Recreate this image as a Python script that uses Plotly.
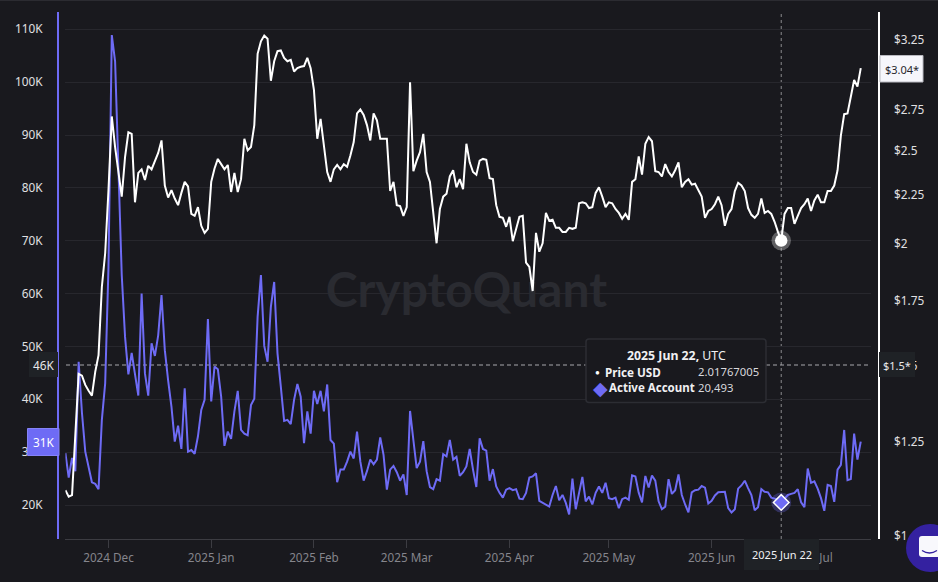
import pandas as pd
import plotly.graph_objects as go

W, H = 938, 582
BG = "#19191e"
PURPLE = "#6e6bf5"
FONT = "Noto Sans"

# daily values, 2024 Nov 18 to 2025 Jul 16
price_usd = [
    1.115, 1.098, 1.102, 1.256, 1.470, 1.464, 1.432, 1.412, 1.396, 1.477,
    1.537, 1.807, 1.958, 2.275, 2.710, 2.520, 2.370, 2.240, 2.460, 2.610,
    2.600, 2.210, 2.370, 2.390, 2.330, 2.410, 2.390, 2.440, 2.485, 2.560,
    2.300, 2.235, 2.275, 2.230, 2.195, 2.260, 2.320, 2.295, 2.150, 2.140,
    2.185, 2.090, 2.055, 2.075, 2.320, 2.395, 2.450, 2.420, 2.390, 2.415,
    2.265, 2.370, 2.265, 2.335, 2.570, 2.500, 2.520, 2.655, 3.145, 3.240,
    3.285, 3.260, 2.950, 3.090, 3.165, 3.170, 3.115, 3.090, 3.100, 3.015,
    3.040, 3.050, 3.055, 3.115, 3.040, 2.885, 2.570, 2.695, 2.510, 2.375,
    2.320, 2.390, 2.415, 2.390, 2.420, 2.405, 2.470, 2.550, 2.730, 2.755,
    2.720, 2.655, 2.560, 2.730, 2.685, 2.570, 2.570, 2.570, 2.270, 2.320,
    2.195, 2.190, 2.140, 2.185, 2.940, 2.380, 2.440, 2.490, 2.600, 2.375,
    2.320, 2.155, 2.005, 2.175, 2.240, 2.255, 2.350, 2.385, 2.290, 2.335,
    2.280, 2.540, 2.430, 2.375, 2.360, 2.440, 2.450, 2.445, 2.340, 2.335,
    2.195, 2.135, 2.130, 2.085, 2.135, 2.015, 2.070, 2.135, 2.140, 1.915,
    1.895, 1.790, 2.055, 1.965, 2.005, 2.155, 2.115, 2.120, 2.080, 2.080,
    2.060, 2.060, 2.080, 2.075, 2.080, 2.205, 2.210, 2.205, 2.180, 2.185,
    2.260, 2.290, 2.240, 2.185, 2.210, 2.205, 2.175, 2.155, 2.125, 2.150,
    2.120, 2.320, 2.335, 2.465, 2.360, 2.540, 2.580, 2.555, 2.380, 2.375,
    2.350, 2.420, 2.375, 2.350, 2.385, 2.430, 2.290, 2.320, 2.335, 2.305,
    2.310, 2.275, 2.240, 2.130, 2.165, 2.175, 2.200, 2.240, 2.195, 2.090,
    2.150, 2.175, 2.270, 2.315, 2.300, 2.270, 2.180, 2.145, 2.130, 2.150,
    2.230, 2.155, 2.165, 2.150, 2.110, 2.060, 2.01767005, 2.150, 2.180, 2.180,
    2.100, 2.140, 2.180, 2.200, 2.230, 2.165, 2.220, 2.250, 2.210, 2.210,
    2.270, 2.270, 2.300, 2.385, 2.590, 2.725, 2.730, 2.840, 2.955, 2.910,
    3.040,
]

# thousands of accounts
active_account = [
    29.8, 25.2, 28.9, 26.4, 47.1, 37.4, 30.1, 27.3, 24.3, 24.0,
    23.0, 36.1, 43.0, 65.0, 108.9, 103.9, 84.0, 63.5, 51.8, 44.7,
    48.8, 44.6, 40.7, 60.0, 44.9, 40.7, 50.6, 48.2, 52.1, 59.7,
    49.3, 43.6, 38.6, 32.0, 35.0, 30.6, 42.1, 30.1, 30.4, 29.7,
    33.0, 38.0, 39.9, 55.2, 39.6, 46.2, 45.7, 40.5, 31.2, 33.9,
    32.5, 37.7, 41.6, 34.2, 33.5, 33.2, 38.9, 40.1, 55.6, 63.5,
    50.1, 47.1, 57.5, 62.2, 48.7, 42.4, 35.9, 36.1, 35.3, 39.9,
    42.9, 40.5, 31.7, 37.7, 33.5, 41.6, 39.1, 41.6, 37.7, 42.8,
    32.3, 31.6, 24.3, 26.7, 26.7, 28.2, 30.1, 28.8, 33.9, 28.2,
    24.6, 26.4, 28.6, 27.7, 28.6, 32.8, 29.5, 22.9, 26.7, 27.4,
    26.2, 24.6, 25.8, 21.9, 37.8, 32.3, 27.0, 28.2, 32.1, 26.4,
    23.4, 23.0, 24.9, 24.6, 29.6, 29.2, 32.3, 28.6, 29.1, 25.5,
    26.2, 27.3, 30.6, 26.7, 23.4, 32.6, 30.6, 30.3, 24.6, 26.8,
    23.5, 22.3, 21.4, 22.9, 23.2, 22.8, 23.0, 21.2, 21.1, 22.3,
    25.2, 25.4, 26.0, 20.8, 20.4, 20.1, 19.7, 21.9, 23.6, 20.9,
    21.9, 20.4, 18.2, 25.0, 19.2, 22.3, 25.3, 20.7, 21.6, 20.1,
    22.3, 23.5, 22.3, 24.2, 21.3, 21.1, 21.4, 19.4, 21.1, 21.4,
    21.0, 25.6, 25.4, 22.3, 20.5, 25.5, 23.3, 25.6, 24.6, 20.7,
    19.2, 19.7, 24.9, 22.1, 22.8, 25.8, 21.9, 20.1, 18.6, 22.4,
    22.8, 22.9, 23.6, 23.3, 20.3, 20.8, 21.8, 22.4, 22.4, 22.5,
    19.4, 18.6, 19.2, 23.1, 23.7, 24.6, 23.2, 21.9, 19.0, 19.6,
    23.0, 22.5, 22.4, 21.4, 21.2, 21.0, 20.493, 21.3, 21.9, 22.1,
    22.3, 23.0, 20.5, 19.6, 26.9, 24.2, 24.5, 23.1, 21.3, 18.9,
    23.8, 23.6, 20.6, 26.7, 27.6, 34.2, 24.7, 24.9, 33.5, 28.6,
    32.0,
]

dates = pd.date_range("2024-11-18", periods=len(price_usd), freq="D")
hover_i = 216

month_starts = ["2024-12-01", "2025-01-01", "2025-02-01", "2025-03-01",
                "2025-04-01", "2025-05-01", "2025-06-01", "2025-07-01"]
month_labels = ["2024 Dec", "2025 Jan", "2025 Feb", "2025 Mar",
                "2025 Apr", "2025 May", "2025 Jun", "2025 Jul"]
account_ticks = [20, 30, 40, 50, 60, 70, 80, 90, 100, 110]
account_labels = ["20K", "30K", "40K", "50K", "60K", "70K", "80K", "90K", "100K", "110K"]
price_ticks = [1, 1.25, 1.5, 1.75, 2, 2.25, 2.5, 2.75, 3, 3.25]
price_labels = ["$1", "$1.25", "$1.5", "$1.75", "$2", "$2.25", "$2.5", "$2.75", "$3", "$3.25"]


def px(x):
    return x / W


def py(y):
    return 1 - y / H


def label(x, y, text, size=11.8, color="#e8e8ea", anchor="center"):
    return dict(xref="paper", yref="paper", x=px(x), y=py(y), text=text, showarrow=False,
                xanchor=anchor, yanchor="middle", font=dict(family=FONT, size=size, color=color))


def box(x0, y0, x1, y1, fill, line=None, layer="above"):
    return dict(type="rect", xref="paper", yref="paper", layer=layer,
                x0=px(x0), x1=px(x1), y0=py(y0), y1=py(y1), fillcolor=fill,
                line=dict(color=line or fill, width=1 if line else 0))


def rounded(x0, y0, x1, y1, r):
    return (f"M {px(x0 + r)} {py(y0)} L {px(x1 - r)} {py(y0)} Q {px(x1)} {py(y0)} {px(x1)} {py(y0 + r)} "
            f"L {px(x1)} {py(y1 - r)} Q {px(x1)} {py(y1)} {px(x1 - r)} {py(y1)} "
            f"L {px(x0 + r)} {py(y1)} Q {px(x0)} {py(y1)} {px(x0)} {py(y1 - r)} "
            f"L {px(x0)} {py(y0 + r)} Q {px(x0)} {py(y0)} {px(x0 + r)} {py(y0)} Z")


fig = go.Figure()

# watermark sits under the lines
fig.add_trace(go.Scatter(x=[dates[121]], y=[59.7], mode="text", text=["CryptoQuant"],
                         textfont=dict(family="Lato", size=48, color="#2a2b31", weight=700),
                         hoverinfo="skip", yaxis="y"))
fig.add_trace(go.Scatter(x=dates, y=active_account, mode="lines", name="Active Account",
                         line=dict(color=PURPLE, width=2), yaxis="y"))
fig.add_trace(go.Scatter(x=[dates[hover_i]], y=[active_account[hover_i]], mode="markers",
                         marker=dict(size=20, color="rgba(110,107,245,0.3)"), yaxis="y"))
fig.add_trace(go.Scatter(x=[dates[hover_i]], y=[active_account[hover_i]], mode="markers",
                         marker=dict(symbol="diamond", size=12, color=PURPLE,
                                     line=dict(color="white", width=1.5)), yaxis="y"))
fig.add_trace(go.Scatter(x=dates, y=price_usd, mode="lines", name="Price USD",
                         line=dict(color="white", width=2), yaxis="y2"))
fig.add_trace(go.Scatter(x=[dates[hover_i]], y=[price_usd[hover_i]], mode="markers",
                         marker=dict(size=19.5, color="rgba(255,255,255,0.3)"), yaxis="y2"))
fig.add_trace(go.Scatter(x=[dates[hover_i]], y=[price_usd[hover_i]], mode="markers",
                         marker=dict(size=12.5, color="white"), yaxis="y2"))

shapes = [
    box(0, 0, W, 1, "#2b2b31"),
    dict(type="line", xref="x", yref="paper", layer="below", x0=dates[hover_i], x1=dates[hover_i],
         y0=py(539), y1=py(12), line=dict(color="#8a8a8e", width=1, dash="3px,3px")),
    dict(type="line", xref="paper", yref="paper", layer="below", x0=px(66), x1=px(871),
         y0=py(365), y1=py(365), line=dict(color="#a8a8ac", width=1, dash="4px,3px")),
    # crosshair and last value tags
    box(29, 352, 58, 377, "#1f2226"),
    box(27.5, 428.5, 59, 455.5, PURPLE, "#8583f7"),
    box(880, 55.5, 923, 82, "#f6f6fb", "#b9b9c0"),
    box(879, 352, 915, 377, "#1f2226"),
    box(744, 539, 819, 570, "#1f2226"),
    # tooltip
    dict(type="path", xref="paper", yref="paper", layer="above", path=rounded(586, 339, 766, 402.5, 3),
         fillcolor=BG, line=dict(color="#2c2d33", width=1.5)),
    # chat bubble
    dict(type="circle", xref="paper", yref="paper", layer="above", x0=px(906), x1=px(954),
         y0=py(524), y1=py(572), fillcolor="#3421a0", line=dict(width=0)),
    dict(type="path", xref="paper", yref="paper", layer="above", path=rounded(919, 536, 950, 557, 3),
         fillcolor="#f8f8fc", line=dict(width=0)),
    dict(type="path", xref="paper", yref="paper", layer="above",
         path=f"M {px(922)} {py(550.5)} Q {px(929.5)} {py(555.5)} {px(937)} {py(550.5)}",
         line=dict(color="#3421a0", width=1.3)),
]

annotations = [
    label(43.5, 365, "46K"),
    label(43.5, 442, "31K", color="white"),
    label(901.5, 69, "$3.04*", color="#26262b", size=11),
    label(897, 365, "$1.5*", size=11),
    label(781.5, 554.5, "2025 Jun 22", color="#f0f0f2", size=11),
    label(676.3, 355.7, "<b>2025 Jun 22,</b> UTC", size=12.3, color="#f0f0f2"),
    label(597.5, 371.7, "●", size=8, color="white"),
    label(603, 371.7, "<b>Price USD</b>", size=11.7, color="#f0f0f2", anchor="left"),
    label(695.5, 371.7, "2.01767005", size=11.3, color="#d8d8dc", anchor="left"),
    label(600, 387.7, "◆", size=19, color=PURPLE),
    label(607, 387.7, "<b>Active Account</b>", size=11.5, color="#f0f0f2", anchor="left"),
    label(695.5, 387.7, "20,493", size=11.3, color="#d8d8dc", anchor="left"),
]

fig.update_layout(
    width=W, height=H, margin=dict(l=0, r=0, t=0, b=0, autoexpand=False), autosize=False,
    paper_bgcolor=BG, plot_bgcolor=BG, showlegend=False,
    font=dict(family=FONT, size=12, color="#e8e8ea"),
    shapes=shapes, annotations=annotations,
    xaxis=dict(domain=[px(65.4), px(870.7)], range=["2024-11-18", "2025-07-19"], type="date",
               tickmode="array", tickvals=month_starts, ticktext=month_labels,
               showgrid=False, zeroline=False, showline=True, linecolor="#3c3c42", linewidth=1,
               ticks="outside", ticklen=8, tickcolor="#3c3c42", tickwidth=1,
               tickfont=dict(family=FONT, size=11.7, color="#85858c"), anchor="y"),
    yaxis=dict(domain=[py(539), py(12)], range=[13.57, 113.27], anchor="free", position=px(58),
               tickmode="array", tickvals=account_ticks, ticktext=account_labels,
               showgrid=True, gridcolor="#27272d", gridwidth=1, zeroline=False,
               showline=True, linecolor=PURPLE, linewidth=2, ticks="",
               ticklabelstandoff=12, tickfont=dict(family=FONT, size=11.8, color="#e0e0e2")),
    yaxis2=dict(overlaying="y", type="log", range=[-0.0031, 0.5408], anchor="free",
                position=px(878.7), side="right", tickmode="array", tickvals=price_ticks,
                ticktext=price_labels, showgrid=False, zeroline=False,
                showline=True, linecolor="white", linewidth=2, ticks="",
                ticklabelstandoff=12, tickfont=dict(family=FONT, size=11.8, color="#e0e0e2")),
)

fig.write_html("out.html", config={"displayModeBar": False},
               post_script="document.body.style.margin='0';document.body.style.background='%s';" % BG)
